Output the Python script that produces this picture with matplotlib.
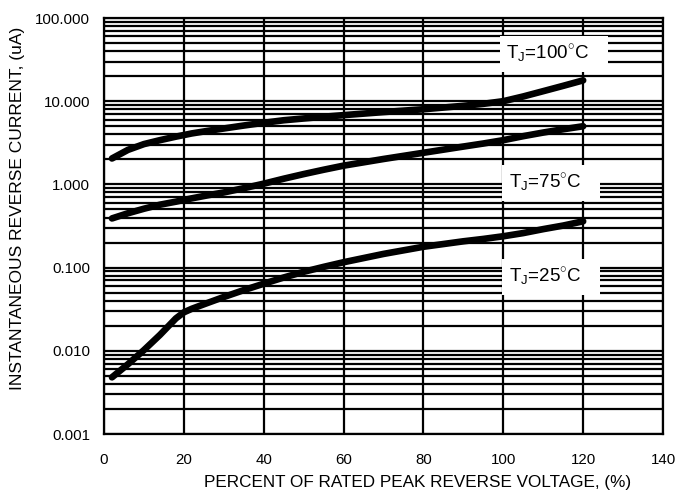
import matplotlib
matplotlib.use("Agg")
import matplotlib.pyplot as plt
import numpy as np
from matplotlib.ticker import FixedLocator, LogLocator, NullFormatter

plt.rcParams["font.family"] = ["Liberation Sans", "DejaVu Sans"]
plt.rcParams["mathtext.fontset"] = "custom"
plt.rcParams["mathtext.rm"] = "Liberation Sans"

# percent of rated peak reverse voltage
PCT = [2, 6, 10, 14, 18, 20, 22, 26, 30, 35, 40, 45, 50, 55, 60, 70, 80, 90, 95, 100, 105, 110, 115, 120]
# reverse current, uA
I_100C = [2.05, 2.6, 3.05, 3.4, 3.75, 3.92, 4.1, 4.4, 4.7, 5.1, 5.5, 5.9, 6.2, 6.5, 6.8, 7.4, 8.0, 8.8, 9.3, 10.0, 11.4, 13.2, 15.3, 17.8]
I_75C = [0.39, 0.45, 0.51, 0.57, 0.62, 0.65, 0.68, 0.74, 0.80, 0.90, 1.02, 1.17, 1.33, 1.50, 1.68, 2.02, 2.4, 2.85, 3.1, 3.4, 3.8, 4.2, 4.6, 5.0]
I_25C = [0.0048, 0.0069, 0.0102, 0.0155, 0.0245, 0.029, 0.032, 0.0377, 0.0443, 0.0536, 0.064, 0.076, 0.089, 0.102, 0.116, 0.146, 0.178, 0.207, 0.221, 0.238, 0.26, 0.29, 0.32, 0.36]

LABELS = [r"T$_{\rm J}$=100$^{\circ}$C", r"T$_{\rm J}$=75$^{\circ}$C", r"T$_{\rm J}$=25$^{\circ}$C"]
LABEL_X = [100.8, 101.5, 101.5]
LABEL_Y = [37, 1.03, 0.078]

Y_TICKS = [0.001, 0.01, 0.1, 1, 10, 100]
Y_TICK_LABELS = ["0.001", "0.010", "0.100", "1.000", "10.000", "100.000"]
X_TICKS = [0, 20, 40, 60, 80, 100, 120, 140]

fig = plt.figure(figsize=(6.75, 5.0), dpi=100)
ax = fig.add_axes([104 / 675, 1 - 434 / 500, (663 - 104) / 675, (434 - 18) / 500])

ax.set_yscale("log")
ax.set_xlim(0, 140)
ax.set_ylim(0.001, 100)

ax.yaxis.set_major_locator(FixedLocator(Y_TICKS))
ax.set_yticklabels(Y_TICK_LABELS)
ax.yaxis.set_minor_locator(LogLocator(base=10, subs=np.arange(2, 10)))
ax.yaxis.set_minor_formatter(NullFormatter())
ax.set_xticks(X_TICKS)

ax.grid(which="major", axis="both", color="black", lw=1.6)
ax.grid(which="minor", axis="y", color="black", lw=1.6)
ax.tick_params(which="both", length=0, labelsize=10.8)
ax.tick_params(axis="x", pad=14)
ax.tick_params(axis="y", pad=10)
for s in ax.spines.values():
    s.set_linewidth(1.6)

for series in (I_100C, I_75C, I_25C):
    ax.plot(PCT, series, color="black", lw=4.8, solid_capstyle="round",
            solid_joinstyle="round", zorder=3)

for txt, lx, ly in zip(LABELS, LABEL_X, LABEL_Y):
    ax.text(lx, ly, txt + "   ", fontsize=13.5, va="center", ha="left", zorder=4,
            bbox=dict(facecolor="white", edgecolor="none", pad=5))

ax.set_xlabel("PERCENT OF RATED PEAK REVERSE VOLTAGE, (%)", fontsize=12.3)
ax.xaxis.set_label_coords((418 - 104) / 559, -(483 - 434) / 416)
ax.set_ylabel("INSTANTANEOUS REVERSE CURRENT, (uA)", fontsize=12.5)
ax.yaxis.set_label_coords(-(104 - 18) / 559, (434 - 208) / 416)
ax.xaxis.label.set_va("center")
ax.yaxis.label.set_va("center")

fig.savefig("out.png", dpi=100, facecolor="white")
